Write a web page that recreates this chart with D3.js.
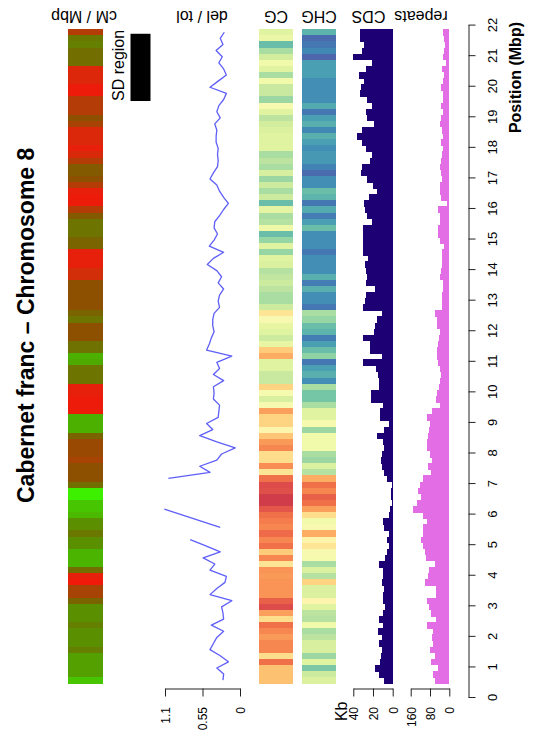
<!DOCTYPE html>
<html>
<head>
<meta charset="utf-8">
<script src="https://cdn.jsdelivr.net/npm/d3@7/dist/d3.min.js"></script>
<style>
  body { margin: 0; background: #fff; }
  svg { display: block; font-family: "Liberation Sans", Arial, sans-serif; }
</style>
</head>
<body>
<svg id="chart" width="533" height="740"></svg>
<script>
// windows along the chromosome (Mbp), listed from the chromosome end downwards
const binTop = 21.85;
const binSize = 0.2;

// recombination rate, scaled 0 (red) .. 1 (green)
const cmMbp = [
  0.3, 0.65, 0.68, 0.6, 0.6, 0.6, 0.12, 0.12, 0.12, 0.02, 0.02, 0.3, 0.3, 0.3, 0.45, 0.35, 0.13, 0.13, 0.13, 0.05, 0.15, 0.3, 0.5, 0.5, 0.45, 0.3, 0.05,
  0.02, 0.02, 0.3, 0.5, 0.63, 0.63, 0.63, 0.55, 0.55, 0.06, 0.06, 0.06, 0.18, 0.18, 0.45, 0.45, 0.45, 0.45, 0.45, 0.55, 0.63, 0.45, 0.45, 0.45, 0.62, 0.62, 0.85,
  0.83, 0.63, 0.63, 0.63, 0.06, 0.06, 0.02, 0.02, 0.02, 0.85, 0.85, 0.85, 0.55, 0.4, 0.4, 0.4, 0.35, 0.45, 0.45, 0.45, 0.6, 1.0, 1.0, 0.9, 0.9, 0.87, 0.75,
  0.74, 0.65, 0.75, 0.75, 0.86, 0.86, 0.86, 0.6, 0.06, 0.0, 0.35, 0.35, 0.55, 0.75, 0.75, 0.75, 0.68, 0.75, 0.75, 0.75, 0.68, 0.8, 0.8, 0.8, 0.8, 0.9
];

// del / tol ratio (null = no value)
const delTol = [
  0.23, 0.29, 0.25, 0.35, 0.26, 0.31, 0.24, 0.20, 0.32, 0.44, 0.20, 0.24, 0.31, 0.34, 0.29, 0.37, 0.34, 0.35, 0.35, 0.32, 0.33, 0.32, 0.33, 0.39, 0.44, 0.34, 0.30,
  0.24, 0.17, 0.24, 0.30, 0.37, 0.38, 0.33, 0.38, 0.45, 0.24, 0.39, 0.48, 0.34, 0.27, 0.32, 0.24, 0.30, 0.32, 0.30, 0.38, 0.40, 0.40, 0.38, 0.42, 0.45, 0.49, 0.12,
  0.34, 0.30, 0.39, 0.24, 0.39, 0.38, 0.39, 0.30, 0.31, 0.32, 0.49, 0.40, 0.59, 0.34, 0.07, 0.27, 0.34, 0.59, 0.44, 1.05,
  null, null, null, null, 1.11, 0.84, 0.56, 0.29, null,
  0.73, 0.51, 0.29, 0.54, 0.37, 0.44, 0.20, 0.22, 0.34, 0.44, 0.12, 0.27, 0.25, 0.24, 0.42, 0.24, 0.34, 0.39, 0.44, 0.29, 0.17, 0.34, 0.24, 0.25
];

// methylation levels on the Spectral scale (0 red .. 1 blue)
const cgMeth = [
  0.6, 0.57, 0.8, 0.7, 0.63, 0.55, 0.6, 0.7, 0.55, 0.65, 0.65, 0.72, 0.52, 0.6, 0.67, 0.63, 0.61, 0.6, 0.6, 0.6, 0.7, 0.67, 0.7, 0.62, 0.72, 0.64, 0.7,
  0.64, 0.8, 0.59, 0.7, 0.68, 0.56, 0.8, 0.73, 0.6, 0.73, 0.6, 0.61, 0.68, 0.66, 0.64, 0.67, 0.7, 0.7, 0.64, 0.42, 0.52, 0.58, 0.6, 0.64, 0.58, 0.36, 0.3,
  0.6, 0.6, 0.65, 0.65, 0.38, 0.53, 0.62, 0.52, 0.28, 0.38, 0.38, 0.48, 0.35, 0.27, 0.24, 0.4, 0.4, 0.25, 0.42, 0.2, 0.13, 0.14, 0.1, 0.1, 0.15, 0.2, 0.22,
  0.24, 0.19, 0.24, 0.2, 0.36, 0.24, 0.42, 0.26, 0.27, 0.26, 0.26, 0.26, 0.17, 0.13, 0.28, 0.4, 0.2, 0.24, 0.27, 0.24, 0.24, 0.4, 0.2, 0.34, 0.34, 0.34
];
const chgMeth = [
  0.82, 0.95, 0.93, 0.9, 0.96, 0.86, 0.86, 0.86, 0.89, 0.89, 0.89, 0.89, 0.84, 0.93, 0.86, 0.83, 0.9, 0.83, 0.86, 0.89, 0.87, 0.87, 0.91, 0.95, 0.89, 0.89, 0.8,
  0.82, 0.93, 0.84, 0.92, 0.86, 0.8, 0.89, 0.89, 0.89, 0.93, 0.89, 0.89, 0.89, 0.83, 0.92, 0.83, 0.89, 0.89, 0.93, 0.7, 0.73, 0.8, 0.82, 0.92, 0.86, 0.8, 0.74,
  0.93, 0.86, 0.83, 0.89, 0.7, 0.78, 0.78, 0.7, 0.6, 0.6, 0.53, 0.72, 0.55, 0.55, 0.55, 0.7, 0.72, 0.61, 0.68, 0.3, 0.2, 0.24, 0.17, 0.2, 0.28, 0.4, 0.55,
  0.52, 0.3, 0.47, 0.42, 0.52, 0.53, 0.7, 0.61, 0.68, 0.38, 0.61, 0.61, 0.48, 0.6, 0.67, 0.68, 0.55, 0.7, 0.67, 0.62, 0.62, 0.72, 0.6, 0.77, 0.64, 0.61
];

// coding sequence per window (Kb)
const cdsKb = [
  33, 33, 29, 31, 40, 21, 27, 34, 29, 32, 33, 26, 21, 27, 26, 19, 31, 36, 31, 27, 21, 23, 31, 32, 26, 20, 16,
  24, 29, 28, 26, 21, 30, 30, 30, 30, 30, 25, 28, 27, 26, 27, 18, 27, 28, 30, 11, 16, 18, 19, 30, 23, 23, 11,
  30, 17, 15, 14, 14, 22, 22, 10, 13, 13, 4, 9, 16, 10, 9, 11, 12, 11, 9, 6, 0.3, 1.5, 1.5, 0.3, 3, 4, 10,
  9, 4, 6, 4, 6, 8, 14, 10, 10, 11, 9, 10, 10, 8, 10, 14, 10, 15, 11, 14, 11, 12, 13, 18, 14, 9
];

// repeats per window (Kb)
const repeatsKb = [
  28, 22, 17, 22, 25, 14, 30, 22, 28, 33, 28, 25, 36, 28, 33, 39, 30, 28, 36, 25, 30, 33, 39, 36, 30, 39, 39,
  36, 8, 45, 39, 39, 45, 45, 39, 20, 32, 32, 32, 36, 39, 28, 28, 32, 32, 32, 59, 52, 52, 39, 42, 45, 50, 50,
  45, 39, 36, 39, 42, 50, 55, 40, 73, 91, 80, 83, 87, 94, 94, 80, 73, 87, 77, 108, 122, 128, 119, 135, 149, 108, 94,
  108, 108, 119, 108, 100, 97, 59, 83, 87, 102, 55, 55, 91, 83, 77, 55, 91, 69, 73, 69, 80, 58, 77, 47, 66, 59
];

const sdRegion = [19.5, 21.7];

const posTicks = [0, 1, 2, 3, 4, 5, 6, 7, 8, 9, 10, 11, 12, 13, 14, 15, 16, 17, 18, 19, 20, 21, 22];
const delTolTicks = [0, 0.55, 1.1];
const cdsTicks = [0, 20, 40];
const repeatTicks = [0, 80, 160];

const trackLabels = [
  { text: "cM / Mbp", x: 84 },
  { text: "del / tol", x: 202 },
  { text: "CG", x: 276 },
  { text: "CHG", x: 319 },
  { text: "CDS", x: 368.5 },
  { text: "repeats", x: 421 }
];

const svg = d3.select("#chart");

let y = d3.scaleLinear().domain([0, 22]).range([697, 24.6]);
let xDel = d3.scaleLinear().domain([0, 1.1]).range([240, 165]);
let xCds = d3.scaleLinear().domain([0, 40]).range([392.7, 353.3]);
let xRep = d3.scaleLinear().domain([0, 160]).range([449.3, 410.7]);

let cmColor = d3.scaleLinear()
  .domain([0, 0.15, 0.3, 0.45, 0.55, 0.65, 0.75, 0.85, 1])
  .range(["#f01a0a", "#d82a0a", "#b43c06", "#8c5000", "#7a6400", "#6a7800", "#5a9000", "#4cb000", "#3cf000"]);

// window i covers [top - binSize, top]
let winTop = i => binTop - i * binSize;

// heatmap column
function heatColumn(values, x0, x1, color) {
  svg.append("g")
    .attr("shape-rendering", "crispEdges")
    .selectAll("rect")
    .data(values)
    .enter()
    .append("rect")
    .attr("x", x0)
    .attr("width", x1 - x0)
    .attr("y", (d, i) => y(winTop(i)))
    .attr("height", (d, i) => y(winTop(i) - binSize) - y(winTop(i)) + 0.5)
    .attr("fill", d => color(d));
}

heatColumn(cmMbp, 68, 103.3, cmColor);
heatColumn(cgMeth, 259, 293, d3.interpolateSpectral);
heatColumn(chgMeth, 301.7, 336, d3.interpolateSpectral);

// SD region
svg.append("rect")
  .attr("x", 130.5).attr("width", 20)
  .attr("y", y(sdRegion[1])).attr("height", y(sdRegion[0]) - y(sdRegion[1]))
  .attr("fill", "#000");

svg.append("text")
  .attr("transform", `translate(124, ${y(sdRegion[0])}) rotate(-90)`)
  .attr("font-size", 16)
  .attr("fill", "#000")
  .text("SD region");

// del / tol line
let line = d3.line()
  .defined(d => d !== null)
  .x(d => xDel(d))
  .y((d, i) => y(winTop(i) - binSize / 2));

svg.append("path")
  .datum(delTol)
  .attr("d", line)
  .attr("fill", "none")
  .attr("stroke", "rgba(40, 40, 245, 0.75)")
  .attr("stroke-width", 1.3)
  .attr("stroke-linejoin", "round");

// bar tracks
function barTrack(values, x, color) {
  svg.append("g")
    .attr("shape-rendering", "crispEdges")
    .selectAll("rect")
    .data(values)
    .enter()
    .append("rect")
    .attr("x", d => x(d))
    .attr("width", d => x(0) - x(d))
    .attr("y", (d, i) => y(winTop(i)))
    .attr("height", (d, i) => y(winTop(i) - binSize) - y(winTop(i)) + 0.5)
    .attr("fill", color);
}

barTrack(cdsKb, xCds, "#1c0074");
barTrack(repeatsKb, xRep, "#e36de4");

// small value axes under the tracks
function bottomAxis(scale, ticks, fmt) {
  let g = svg.append("g")
    .attr("transform", "translate(0, 688.5)")
    .call(d3.axisBottom(scale).tickValues(ticks).tickSize(8).tickSizeOuter(0).tickFormat(fmt));
  g.select(".domain").attr("stroke", "#222");
  g.selectAll(".tick line").attr("stroke", "#222");
  g.selectAll(".tick text")
    .attr("transform", "rotate(-90)")
    .attr("x", -18.5)
    .attr("y", 0)
    .attr("dy", "0.36em")
    .attr("text-anchor", "end")
    .attr("font-size", 12)
    .attr("font-family", null)
    .attr("fill", "#000");
}

bottomAxis(xDel, delTolTicks, d => d === 0 ? "0" : String(d));
bottomAxis(xCds, cdsTicks, d3.format("d"));
bottomAxis(xRep, repeatTicks, d3.format("d"));

svg.append("text")
  .attr("transform", "translate(346.5, 701.5) rotate(-90)")
  .attr("text-anchor", "end")
  .attr("font-size", 16)
  .text("Kb");

// position axis
let posAxis = svg.append("g")
  .attr("transform", "translate(468.5, 0)")
  .call(d3.axisRight(y).tickValues(posTicks).tickSize(7).tickSizeOuter(0).tickFormat(d3.format("d")));
posAxis.select(".domain").attr("stroke", "#222");
posAxis.selectAll(".tick line").attr("stroke", "#222");
posAxis.selectAll(".tick text")
  .attr("transform", "rotate(-90)")
  .attr("x", 0)
  .attr("y", 28)
  .attr("dy", 0)
  .attr("text-anchor", "middle")
  .attr("font-size", 13)
  .attr("font-family", null)
  .attr("fill", "#000");

svg.append("text")
  .attr("transform", "translate(521, 22) rotate(-90)")
  .attr("text-anchor", "end")
  .attr("font-size", 16)
  .attr("font-weight", "bold")
  .text("Position (Mbp)");

// track names, upside down
svg.selectAll(".track-label")
  .data(trackLabels)
  .enter()
  .append("text")
  .attr("class", "track-label")
  .attr("transform", d => `translate(${d.x}, 10.5) rotate(180)`)
  .attr("text-anchor", "middle")
  .attr("font-size", 16)
  .text(d => d.text);

// title
svg.append("text")
  .attr("transform", "translate(33.5, 503) rotate(-90)")
  .attr("font-size", 23)
  .attr("font-weight", "bold")
  .text("Cabernet franc \u2013 Chromosome 8");
</script>
</body>
</html>
